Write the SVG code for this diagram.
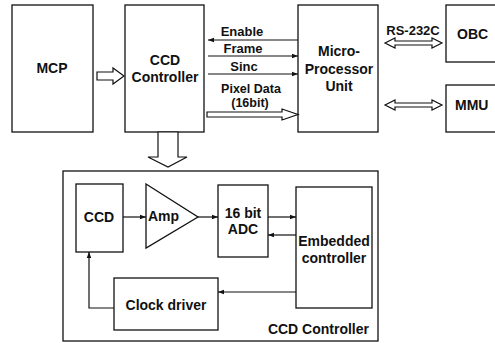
<svg xmlns="http://www.w3.org/2000/svg" width="495" height="343" viewBox="0 0 495 343">
<defs>
<style>
.box{fill:#fff;stroke:#111;stroke-width:1.3}
.ln{fill:none;stroke:#111;stroke-width:1.2}
.hol{fill:#fff;stroke:#111;stroke-width:1.2;stroke-linejoin:miter}
text{font-family:"Liberation Sans",Arial,sans-serif;font-weight:bold;font-size:14px;fill:#111}
.c{text-anchor:middle}
.s{font-size:13px}
.t{font-size:12.5px}
</style>
<marker id="ah" viewBox="0 0 8 8" refX="8" refY="4" markerWidth="6" markerHeight="6" markerUnits="userSpaceOnUse" orient="auto">
<path d="M0,1 L8,4 L0,7 Z" fill="#111"/>
</marker>
</defs>
<rect width="495" height="343" fill="#fff"/>
<g id="mcp"><rect class="box" x="12" y="5" width="81" height="127"/><text class="c" x="52" y="73">MCP</text></g>
<g id="ccdctl"><rect class="box" x="125" y="5" width="79" height="127"/><text class="c" x="165" y="65">CCD</text><text class="c" x="165" y="82">Controller</text></g>
<g id="mpu"><rect class="box" x="298" y="5" width="80" height="127"/><text class="c" x="339" y="56">Micro-</text><text class="c" x="339" y="74">Processor</text><text class="c" x="339" y="91">Unit</text></g>
<g id="obc"><rect class="box" x="446" y="5" width="55" height="57"/><text x="457" y="39">OBC</text></g>
<g id="mmu"><rect class="box" x="446" y="85" width="55" height="47"/><text x="455" y="110">MMU</text></g>
<g id="outer"><rect class="box" x="63" y="171" width="315" height="170"/><text x="369" y="334" text-anchor="end">CCD Controller</text></g>
<g id="ccd"><rect class="box" x="76" y="184" width="47" height="68"/><text class="c" x="99" y="222">CCD</text></g>
<g id="amp"><path class="box" d="M146,184 L198,217 L146,248 Z"/><text x="148" y="221">Amp</text></g>
<g id="adc"><rect class="box" x="218" y="185" width="50" height="72"/><text class="c" x="243" y="218">16 bit</text><text class="c" x="243" y="234">ADC</text></g>
<g id="emb"><rect class="box" x="296" y="187" width="76" height="121"/><text class="c" x="334" y="246">Embedded</text><text class="c" x="334" y="263">controller</text></g>
<g id="clk"><rect class="box" x="114" y="278" width="104" height="52"/><text class="c" x="166" y="310">Clock driver</text></g>
<g id="connectors">
<path class="hol" d="M97,72 L113,72 L113,68 L124,76 L113,84 L113,80 L97,80 Z"/>
<path class="hol" d="M158,132 L178,132 L178,157 L187,157 L168,167 L148,157 L158,157 Z"/>
<line class="ln" x1="298" y1="40" x2="208" y2="40" marker-end="url(#ah)"/>
<line class="ln" x1="208" y1="56" x2="298" y2="56" marker-end="url(#ah)"/>
<line class="ln" x1="208" y1="74" x2="298" y2="74" marker-end="url(#ah)"/>
<path class="hol" d="M207,112 L282,112 L282,109 L298,114.5 L282,120 L282,117 L207,117 Z"/>
<path class="hol" d="M385,43 L395,38 L395,41 L432,41 L432,38 L442,43 L432,48 L432,45 L395,45 L395,48 Z"/>
<path class="hol" d="M385,105 L395,100 L395,103 L432,103 L432,100 L442,105 L432,110 L432,107 L395,107 L395,110 Z"/>
<text x="242" y="36" class="c s">Enable</text>
<text x="243" y="53" class="c s">Frame</text>
<text x="244" y="71" class="c s">Sinc</text>
<text x="251" y="93" class="c t">Pixel Data</text>
<text x="250" y="107" class="c t">(16bit)</text>
<text x="413" y="35" class="c s">RS-232C</text>
<line class="ln" x1="123" y1="217" x2="146" y2="217" marker-end="url(#ah)"/>
<line class="ln" x1="198" y1="217" x2="218" y2="217" marker-end="url(#ah)"/>
<line class="ln" x1="268" y1="217" x2="296" y2="217" marker-end="url(#ah)"/>
<line class="ln" x1="296" y1="235" x2="268" y2="235" marker-end="url(#ah)"/>
<line class="ln" x1="296" y1="292" x2="218" y2="292" marker-end="url(#ah)"/>
<path class="ln" d="M114,308 L89,308 L89,252" marker-end="url(#ah)"/>
</g>
</svg>
